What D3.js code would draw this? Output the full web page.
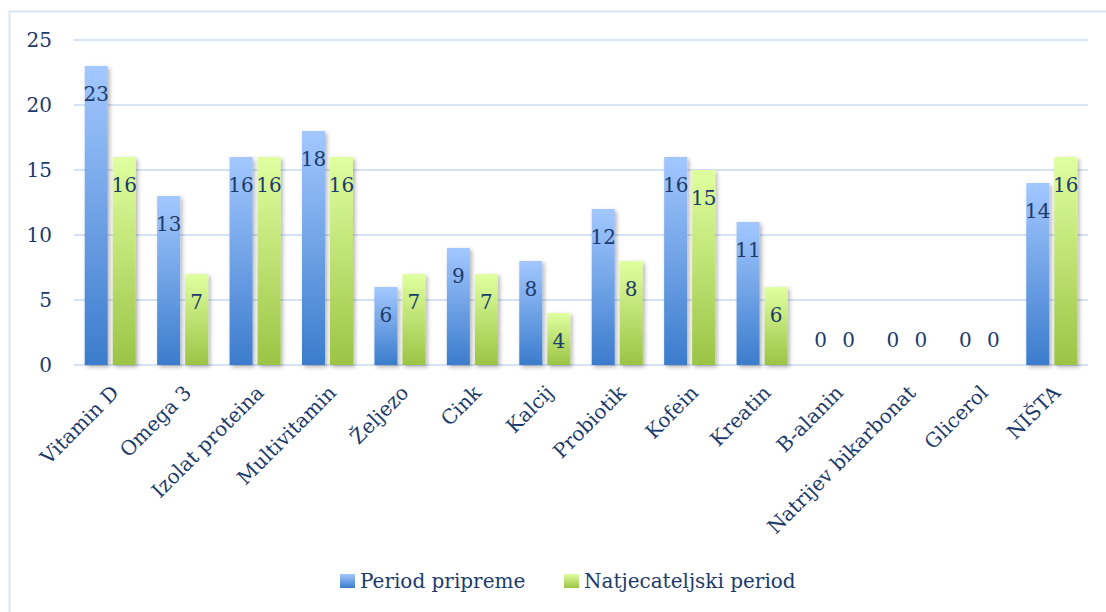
<!DOCTYPE html>
<html><head><meta charset="utf-8">
<script src="https://cdn.jsdelivr.net/npm/d3@7"></script>
<style>html,body{margin:0;padding:0;background:#fff;}svg{display:block;}</style>
</head><body>
<svg id="chart" width="1106" height="612"></svg>
<script>
const categories = ["Vitamin D","Omega 3","Izolat proteina","Multivitamin","Željezo","Cink","Kalcij","Probiotik","Kofein","Kreatin","B-alanin","Natrijev bikarbonat","Glicerol","NIŠTA"];
const seriesNames = ["Period pripreme","Natjecateljski period"];
const periodPripreme = [23,13,16,18,6,9,8,12,16,11,0,0,0,14];
const natjecateljski = [16,7,16,16,7,7,4,8,15,6,0,0,0,16];
const yTicks = [0,5,10,15,20,25];

const FONT = "'DejaVu Serif', serif";
const TXT = "#1c3b6c";
const svg = d3.select("#chart");
const W = 1106, H = 612;
const m = {left:74, right:18, top:40, bottom:247};
const iw = W - m.left - m.right, ih = H - m.top - m.bottom;

const defs = svg.append("defs");
function grad(id, c1, c2){
  const g = defs.append("linearGradient").attr("id", id).attr("x1",0).attr("y1",0).attr("x2",0).attr("y2",1);
  g.append("stop").attr("offset","0%").attr("stop-color",c1);
  g.append("stop").attr("offset","100%").attr("stop-color",c2);
}
grad("gBlue","#a3c8ff","#3b7ccc");
grad("gGreen","#e0ffa0","#9bc445");
const f = defs.append("filter").attr("id","sh").attr("x","-30%").attr("y","-10%").attr("width","160%").attr("height","130%");
f.append("feDropShadow").attr("dx",2).attr("dy",2).attr("stdDeviation",2).attr("flood-color","#000").attr("flood-opacity",0.3);

// border
svg.append("rect").attr("x",9.5).attr("y",11.5).attr("width",1110).attr("height",620)
  .attr("fill","none").attr("stroke","#d9e5f4").attr("stroke-width",2);

const g = svg.append("g").attr("transform",`translate(${m.left},${m.top})`);
const x = d3.scaleBand().domain(categories).range([0, iw]).paddingInner(0).paddingOuter(0);
const y = d3.scaleLinear().domain([0,25]).range([ih,0]);
const barW = 23, gap = 5;

// grid
g.append("g").selectAll("line").data(yTicks).join("line")
  .attr("x1",0).attr("x2",iw).attr("y1",d=>y(d)).attr("y2",d=>y(d))
  .attr("stroke","#d6e3f4").attr("stroke-width",2);

// y axis labels
const yAxis = d3.axisLeft(y).tickValues(yTicks).tickSize(0).tickPadding(22);
const ya = g.append("g").call(yAxis);
ya.select(".domain").remove();
ya.selectAll("text").attr("font-family",FONT).attr("font-size",20).attr("fill",TXT);

const series = [
  {name:seriesNames[0], vals:periodPripreme, fill:"url(#gBlue)", off:-(gap/2+barW)},
  {name:seriesNames[1], vals:natjecateljski, fill:"url(#gGreen)", off:gap/2}
];
series.forEach(s=>{
  const gg = g.append("g");
  gg.selectAll("rect").data(categories).join("rect")
    .attr("x",(c)=>x(c)+x.bandwidth()/2+s.off)
    .attr("width",barW)
    .attr("y",(c,i)=>y(s.vals[i]))
    .attr("height",(c,i)=>y(0)-y(s.vals[i]))
    .attr("fill",s.fill)
    .attr("filter","url(#sh)");
  gg.selectAll("text").data(categories).join("text")
    .attr("x",(c)=>x(c)+x.bandwidth()/2+s.off+barW/2)
    .attr("y",(c,i)=> s.vals[i] > 2 ? y(s.vals[i]) + 28 : y(0) - 25)
    .attr("dy","0.35em")
    .attr("text-anchor","middle")
    .attr("font-family",FONT).attr("font-size",20).attr("fill",TXT)
    .text((c,i)=>s.vals[i]);
});

// x labels
const xAxis = d3.axisBottom(x).tickSize(0).tickPadding(0);
const xa = g.append("g").attr("transform",`translate(0,${ih})`).call(xAxis);
xa.select(".domain").remove();
xa.selectAll("text")
  .attr("font-family",FONT).attr("font-size",20).attr("fill",TXT)
  .attr("text-anchor","end")
  .attr("dy","0.35em").attr("y",0)
  .attr("transform","translate(5,24) rotate(-45)");

// legend
const lg = svg.append("g").attr("transform","translate(0,581)");
const legendItems = [{name:seriesNames[0], fill:"url(#gBlue)", x:340},{name:seriesNames[1], fill:"url(#gGreen)", x:564}];
legendItems.forEach(it=>{
  lg.append("rect").attr("x",it.x).attr("y",-7).attr("width",15).attr("height",14).attr("fill",it.fill);
  lg.append("text").attr("x",it.x+20).attr("y",0).attr("dy","0.35em")
    .attr("font-family",FONT).attr("font-size",20).attr("fill",TXT).text(it.name);
});
</script>
</body></html>
